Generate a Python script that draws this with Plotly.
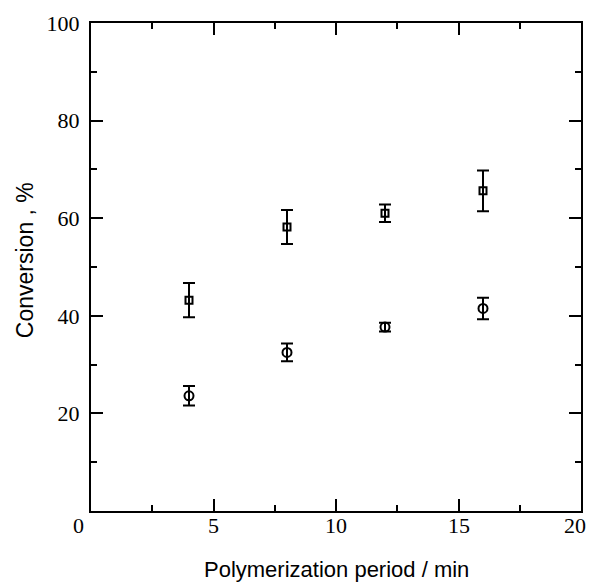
import plotly.graph_objects as go

period = [4, 8, 12, 16]
conv_square = [43.2, 58.2, 61.0, 65.6]
err_square = [3.5, 3.5, 1.8, 4.2]
conv_circle = [23.6, 32.5, 37.7, 41.5]
err_circle = [2.0, 1.8, 0.9, 2.2]

x_ticks = [0, 5, 10, 15, 20]
x_tick_labels = ["0", "5", "10", "15", "20"]
y_ticks = [20, 40, 60, 80, 100]
y_tick_labels = ["20", "40", "60", "80", "100"]

fig = go.Figure()
fig.add_trace(go.Scatter(
    x=period, y=conv_square, mode="markers",
    marker=dict(symbol="square-open", size=7, color="black", line=dict(width=2, color="black")),
    error_y=dict(type="data", array=err_square, visible=True, color="black", thickness=2, width=6),
    showlegend=False))
fig.add_trace(go.Scatter(
    x=period, y=conv_circle, mode="markers",
    marker=dict(symbol="circle-open", size=9, color="black", line=dict(width=2, color="black")),
    error_y=dict(type="data", array=err_circle, visible=True, color="black", thickness=2, width=6),
    showlegend=False))

tick_font = dict(family="Liberation Serif, Times New Roman, serif", size=22, color="black")
title_font = dict(family="Liberation Sans, Arial, sans-serif", size=22, color="black")

axis_common = dict(showline=True, linewidth=2, linecolor="black", mirror="allticks",
                   ticks="inside", ticklen=12, tickwidth=2, tickcolor="black",
                   showgrid=False, zeroline=False, automargin=False,
                   tickfont=tick_font)

fig.update_xaxes(range=[0, 20], tickvals=x_ticks[1:], showticklabels=False,
                 minor=dict(dtick=2.5, ticks="inside", ticklen=6, tickwidth=2, tickcolor="black", showgrid=False),
                 **axis_common)
fig.update_yaxes(range=[0, 100], tickvals=y_ticks, ticktext=y_tick_labels,
                 minor=dict(dtick=10, ticks="inside", ticklen=6, tickwidth=2, tickcolor="black", showgrid=False),
                 ticklabelstandoff=5,
                 **axis_common)

# x tick labels
x_label_shift = {0: -13, 20: -6}
for v, t in zip(x_ticks, x_tick_labels):
    fig.add_annotation(x=v, y=0, xref="x", yref="paper", text=t, showarrow=False,
                       xanchor="center", yanchor="middle",
                       xshift=x_label_shift.get(v, 0), yshift=-14, font=tick_font)

# axis titles
fig.add_annotation(x=0.5, y=0, xref="paper", yref="paper", text="Polymerization period / min",
                   showarrow=False, xanchor="center", yanchor="middle", yshift=-58, font=title_font)
fig.add_annotation(x=0, y=0.514, xref="paper", yref="paper", text="Conversion , %",
                   showarrow=False, textangle=-90, xanchor="center", yanchor="middle", xshift=-66,
                   font=dict(family="Liberation Sans, Arial, sans-serif", size=23, color="black"))

fig.update_layout(width=586, height=574, plot_bgcolor="white", paper_bgcolor="white",
                  margin=dict(l=83, r=13, t=15, b=71))

fig.write_html("out.html")
